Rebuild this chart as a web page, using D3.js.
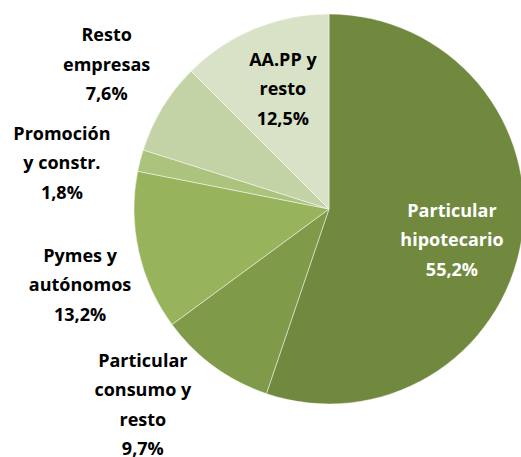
<!DOCTYPE html>
<html>
<head>
<meta charset="utf-8">
<title></title>
<script src="https://cdn.jsdelivr.net/npm/d3@7"></script>
<style>
  body { margin: 0; background: #fff; }
  text { font-family: "Open Sans", Lato, sans-serif; font-weight: bold; font-size: 18px; }
</style>
</head>
<body>
<div id="chart"></div>
<script>

// data, clockwise from 12 o'clock
var names = ['Particular hipotecario', 'Particular consumo y resto', 'Pymes y autónomos',
  'Promoción y constr.', 'Resto empresas', 'AA.PP y resto'];
var values = [55.2, 9.7, 13.2, 1.8, 7.6, 12.5];
var labelLines = [
  ['Particular', 'hipotecario', '55,2%'],
  ['Particular', 'consumo y', 'resto', '9,7%'],
  ['Pymes y', 'autónomos', '13,2%'],
  ['Promoción', 'y constr.', '1,8%'],
  ['Resto', 'empresas', '7,6%'],
  ['AA.PP y', 'resto', '12,5%']
];
var colors = ['#71893f', '#7f9b49', '#97b35b', '#acc37d', '#c3d3a5', '#d8e2c6'];

// label placement: radius as share of pie radius, and a nudge (degrees) off the slice middle
var labelRadius = [0.65, 1.385, 1.335, 1.39, 1.36, 0.66];
var labelNudge = [4.7, 7.4, -4.4, -4.6, 1.7, 1.5];

var width = 521, height = 457;
var cx = 329, cy = 209, r = 195;
var lineH = 29.5;

var svg = d3.select('#chart').append('svg')
  .attr('width', width)
  .attr('height', height);

var g = svg.append('g').attr('transform', 'translate(' + cx + ',' + cy + ')');

var pie = d3.pie().sort(null).value(function(d){ return d; });
var arcs = pie(values);

var arc = d3.arc().innerRadius(0).outerRadius(r);

g.selectAll('.slice').data(arcs)
  .enter().append('path').classed('slice', true)
    .attr('d', arc)
    .style('fill', function(d, i){ return colors[i]; })
    .style('stroke', 'rgba(255,255,255,0.6)')
    .style('stroke-width', 0.8);

function labelPos(d, i){
  var a = (d.startAngle + d.endAngle) / 2 + labelNudge[i] * Math.PI / 180;
  var rr = r * labelRadius[i];
  return [rr * Math.sin(a), -rr * Math.cos(a)];
}

var labels = g.selectAll('.lbl').data(arcs)
  .enter().append('text').classed('lbl', true)
    .attr('text-anchor', 'middle')
    .style('fill', function(d, i){ return i == 0 ? '#ffffff' : '#000000'; })
    .attr('transform', function(d, i){
      var c = labelPos(d, i);
      var n = labelLines[i].length;
      return 'translate(' + c[0] + ',' + (c[1] - (n - 1) * lineH / 2) + ')';
    });

labels.each(function(d, i){
  d3.select(this).selectAll('tspan').data(labelLines[i])
    .enter().append('tspan')
      .attr('x', 0)
      .attr('y', function(t, j){ return j * lineH; })
      .attr('dy', '0.35em')
      .text(function(t){ return t; });
});

</script>
</body>
</html>
